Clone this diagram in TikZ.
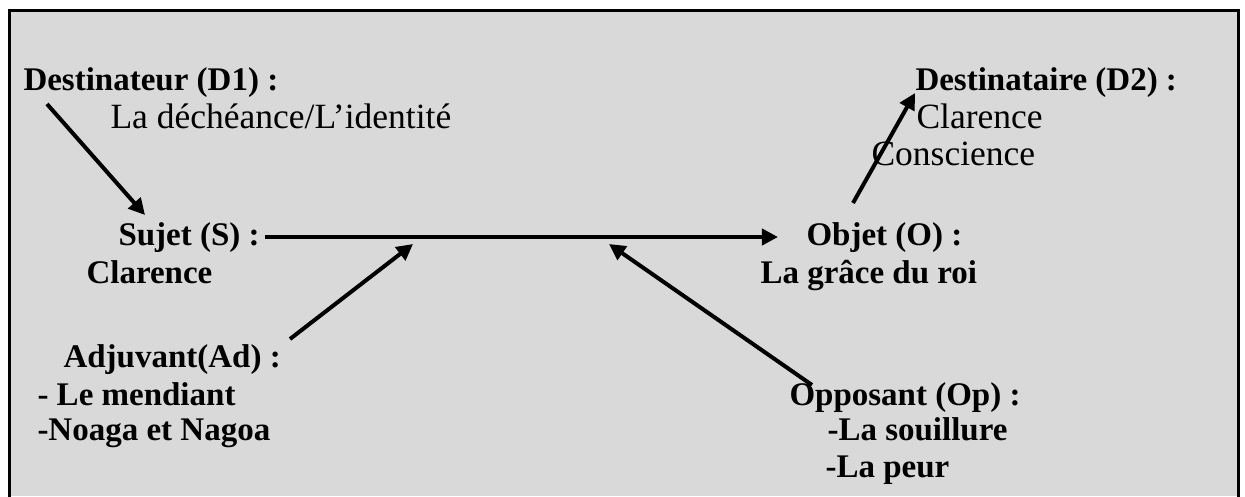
\documentclass[tikz,border=0pt]{standalone}
\usepackage{fontspec}
\setmainfont{Liberation Serif}
\usetikzlibrary{arrows.meta}
\definecolor{bg}{HTML}{D9D9D9}
\tikzset{
  lbl/.style={anchor=base west, inner sep=0pt, font=\fontsize{14.2}{16}\selectfont},
  blbl/.style={lbl, font=\fontsize{13.2}{15}\selectfont\bfseries},
  conn/.style={line width=1.6pt, -{Triangle[length=6.5pt,width=6.5pt]}},
  frame/.style={line width=1.2pt}
}
\begin{document}
\begin{tikzpicture}[x=0.4pt,y=-0.4pt]
\useasboundingbox (0,0) rectangle (1245,496);
\fill[white] (0,0) rectangle (1245,496);
\fill[bg] (9,10) rectangle (1238,496);
\draw[frame] (9,500) -- (9,10) -- (1238,10) -- (1238,500);

\node[blbl] (d1) at (23,90) {Destinateur (D1) :};
\node[lbl] (d1a) at (110,128) {La déchéance/L’identité};
\node[blbl] (s) at (118,245) {Sujet (S) :};
\node[blbl] (sa) at (86,283) {Clarence};
\node[blbl] (ad) at (63,367) {Adjuvant(Ad) :};
\node[blbl] (ad1) at (37,405) {- Le mendiant};
\node[blbl] (ad2) at (37,440) {-Noaga et Nagoa};
\node[blbl] (d2) at (915,90) {Destinataire (D2) :};
\node[lbl] (d2a) at (916,128) {Clarence};
\node[lbl] (d2b) at (871,165) {Conscience};
\node[blbl] (o) at (806,245) {Objet (O) :};
\node[blbl] (oa) at (760,283) {La grâce du roi};
\node[blbl] (op) at (789,405) {Opposant (Op) :};
\node[blbl] (op1) at (827,440) {-La souillure};
\node[blbl] (op2) at (825,477) {-La peur};

\coordinate (d1s) at (47,104);
\coordinate (st) at (145,215);
\coordinate (sr) at (265,237);
\coordinate (ol) at (778,237);
\coordinate (ads) at (290,339);
\coordinate (adt) at (413,244);
\coordinate (ops) at (812,385);
\coordinate (opt) at (609,244);
\coordinate (d2s) at (853,203);
\coordinate (d2t) at (915,93);

\draw[conn] (d1s) -- (st);
\draw[conn] (sr) -- (ol);
\draw[conn] (ads) -- (adt);
\draw[conn] (ops) -- (opt);
\draw[conn] (d2s) -- (d2t);
\end{tikzpicture}
\end{document}
